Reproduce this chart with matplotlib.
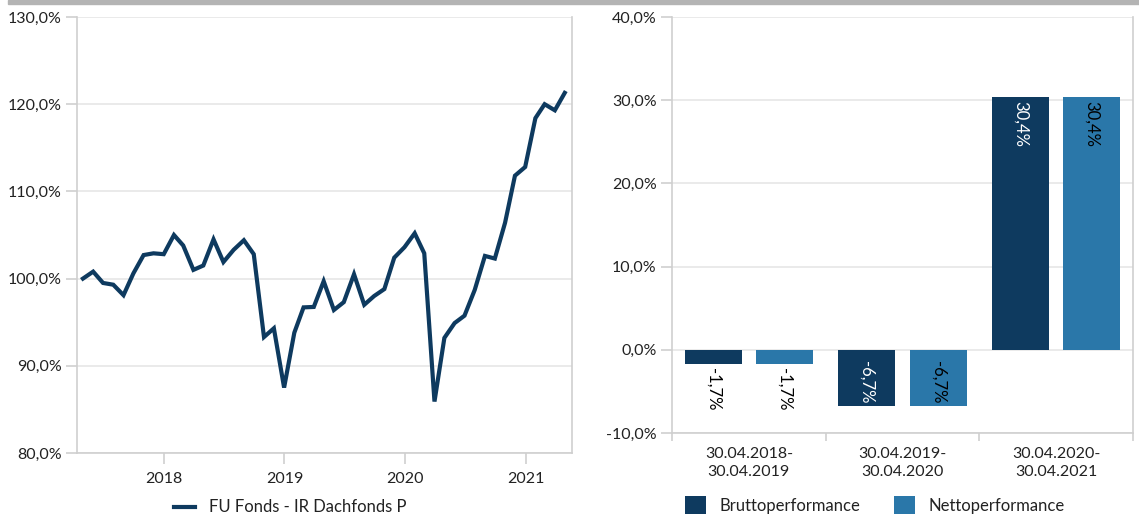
import numpy as np
import pandas as pd
import matplotlib
matplotlib.use("Agg")
import matplotlib.pyplot as plt
import matplotlib.dates as mdates
import matplotlib.ticker as mticker
from matplotlib.patches import Rectangle

plt.rcParams['font.family'] = ['Lato', 'DejaVu Sans']

# daten ------------------------------------------------------------------
fechas = pd.date_range("2017-04-30", "2021-04-30", freq="ME")
wert = [100.0, 100.8, 99.5, 99.3, 98.1, 100.6, 102.7, 102.9, 102.8, 105.0,
        103.8, 101.0, 101.5, 104.5, 101.9, 103.3, 104.4, 102.8, 93.3, 94.3,
        87.5, 93.8, 96.7, 96.75, 99.7, 96.4, 97.3, 100.5, 97.0, 98.0,
        98.8, 102.4, 103.6, 105.2, 102.9, 85.9, 93.2, 94.9, 95.75, 98.7,
        102.6, 102.3, 106.4, 111.8, 112.8, 118.4, 120.0, 119.3, 121.3]
serie_name = "FU Fonds - IR Dachfonds P"

perioden = ["30.04.2018-\n30.04.2019", "30.04.2019-\n30.04.2020", "30.04.2020-\n30.04.2021"]
brutto = [-1.7, -6.7, 30.4]
netto = [-1.7, -6.7, 30.4]

# estilos ----------------------------------------------------------------
C_DARK = "#0e3a5f"
C_LIGHT = "#2a77a9"
C_GRID = "#e6e6e6"
C_SPINE = "#cfcfcf"
C_TXT = "#222222"
FS = 11.5

def fmt_pct(x, pos=None):
    return f"{x:.1f}%".replace(".", ",")

fig = plt.figure(figsize=(11.39, 5.16), dpi=100, facecolor="white")
fig.patches.append(Rectangle((8 / 1139, 1 - 4 / 516), 1, 4 / 516, transform=fig.transFigure,
                             color="#b4b4b4", zorder=0))

def estilo(ax):
    ax.spines["top"].set_visible(False)
    for s in ["left", "right", "bottom"]:
        ax.spines[s].set_color(C_SPINE)
        ax.spines[s].set_linewidth(1.2)
    ax.grid(axis="y", color=C_GRID, linewidth=1.2)
    ax.set_axisbelow(True)
    ax.tick_params(axis="both", colors=C_SPINE, labelcolor=C_TXT, labelsize=FS, length=8, width=1.2)
    ax.tick_params(axis="y", pad=3)
    ax.yaxis.set_major_formatter(mticker.FuncFormatter(fmt_pct))

# linke grafik ------------------------------------------------------------
ax1 = fig.add_axes([77 / 1139, 1 - 453 / 516, (572 - 77) / 1139, (453 - 17) / 516])
ax1.plot(fechas, wert, color=C_DARK, linewidth=3.0, solid_joinstyle="miter")
ax1.set_ylim(80, 130)
ax1.set_yticks(np.arange(80, 131, 10))
ax1.set_xlim(pd.Timestamp("2017-04-12"), pd.Timestamp("2021-05-22"))
ax1.xaxis.set_major_locator(mdates.YearLocator())
ax1.xaxis.set_major_formatter(mdates.DateFormatter("%Y"))
estilo(ax1)
ax1.tick_params(axis="x", pad=6)
ax1.legend([serie_name], loc="center", bbox_to_anchor=(0.43, -0.125), frameon=False,
           fontsize=12, handlelength=1.3, labelcolor=C_TXT)

# rechte grafik -----------------------------------------------------------
ax2 = fig.add_axes([672 / 1139, 1 - 433 / 516, (1133 - 672) / 1139, (433 - 17) / 516])
x = np.arange(len(perioden))
bw, off = 0.37, 0.232
b1 = ax2.bar(x - off, brutto, bw, color=C_DARK, label="Bruttoperformance")
b2 = ax2.bar(x + off, netto, bw, color=C_LIGHT, label="Nettoperformance")
ax2.set_ylim(-10, 40)
ax2.set_yticks(np.arange(-10, 41, 10))
ax2.set_xlim(-0.5, len(perioden) - 0.5)
ax2.set_xticks(x)
ax2.set_xticklabels(perioden, linespacing=1.35)
ax2.set_xticks(np.arange(-0.5, len(perioden), 1), minor=True)
estilo(ax2)
ax2.tick_params(axis="x", which="major", length=0, pad=10)
ax2.tick_params(axis="x", which="minor", length=6, width=1.2, colors=C_SPINE)

for barras, txt_in in [(b1, "white"), (b2, "black")]:
    for r, v in zip(barras, barras.datavalues):
        xc = r.get_x() + r.get_width() / 2
        lab = fmt_pct(v)
        if v >= 0:
            ax2.text(xc, v - 0.5, lab, rotation=270, ha="center", va="top", color=txt_in, fontsize=12)
        elif v < -4:
            ax2.text(xc, v + 0.3, lab, rotation=270, ha="center", va="bottom", color=txt_in, fontsize=12)
        else:
            ax2.text(xc, v - 0.5, lab, rotation=270, ha="center", va="top", color="black", fontsize=12)

ax2.legend(loc="center", bbox_to_anchor=(0.44, -0.173), ncol=2, frameon=False, fontsize=12,
           handlelength=1.3, handleheight=1.3, columnspacing=2.0, labelcolor=C_TXT)

fig.savefig("out.png", dpi=100)
